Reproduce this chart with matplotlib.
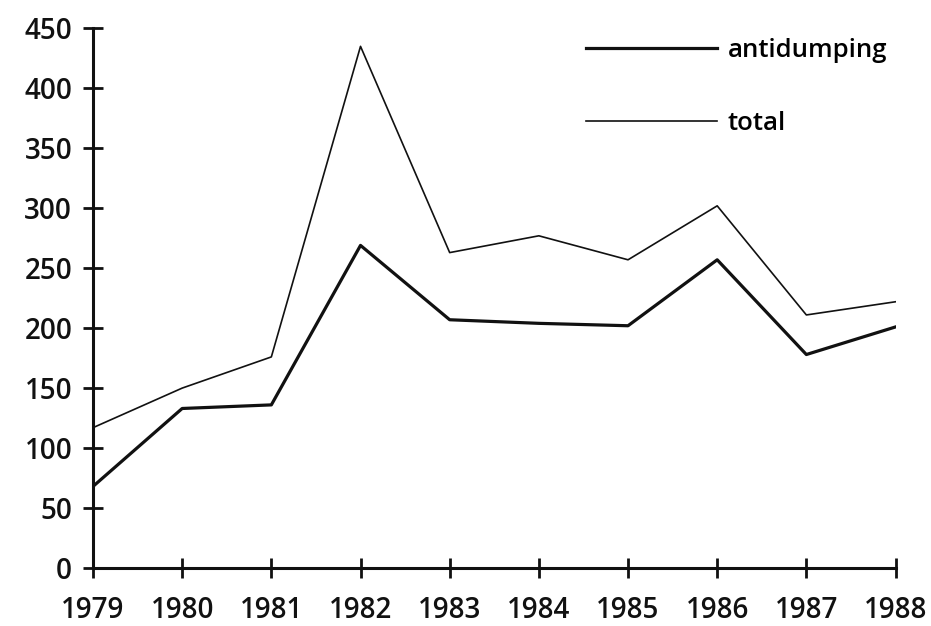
import matplotlib
matplotlib.use('Agg')
import matplotlib.pyplot as plt

# Data
years = [1979, 1980, 1981, 1982, 1983, 1984, 1985, 1986, 1987, 1988]
antidumping = [68, 133, 136, 269, 207, 204, 202, 257, 178, 201]
total = [117, 150, 176, 435, 263, 277, 257, 302, 211, 222]
y_ticks = [0, 50, 100, 150, 200, 250, 300, 350, 400, 450]

plt.rcParams['font.family'] = ['Open Sans', 'DejaVu Sans']

fig = plt.figure(figsize=(9.31, 6.26), dpi=100)
ax = fig.add_axes([0.0999, 0.0927, 0.862, 0.862])

ax.plot(years, antidumping, color='#111111', linewidth=2.3, label='antidumping')
ax.plot(years, total, color='#111111', linewidth=1.2, label='total')

ax.set_xlim(years[0], years[-1])
ax.set_ylim(0, 450)
ax.set_xticks(years)
ax.set_yticks(y_ticks)

for side in ['top', 'right']:
    ax.spines[side].set_visible(False)
for side in ['left', 'bottom']:
    ax.spines[side].set_linewidth(2.2)
    ax.spines[side].set_color('#111111')

ax.tick_params(axis='both', direction='inout', length=14, width=2, color='#111111')
ax.tick_params(axis='y', labelsize=20, pad=8)
ax.tick_params(axis='x', labelsize=20, pad=13)
for lbl in ax.get_yticklabels() + ax.get_xticklabels():
    lbl.set_fontweight('semibold')
    lbl.set_color('#111111')

ax.legend(loc='upper left', bbox_to_anchor=(0.585, 1.025), frameon=False,
          handlelength=5.1, handletextpad=0.43, labelspacing=1.87,
          prop={'size': 18.5, 'weight': 'semibold'})

fig.savefig('out.png', dpi=100, facecolor='white')
